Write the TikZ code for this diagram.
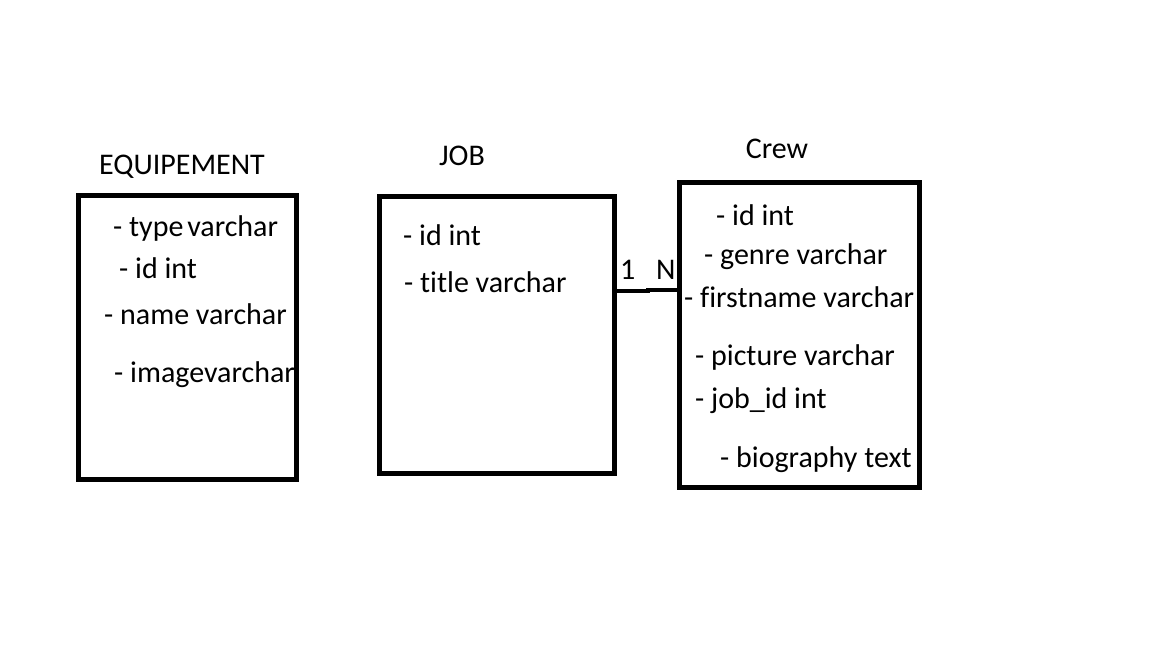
\documentclass[tikz,border=0pt]{standalone}
\usepackage{fontspec}
\setmainfont[Ligatures={NoCommon}]{Carlito}
\begin{document}
\begin{tikzpicture}[x=1pt,y=-1pt,
  tbl/.style={draw=black,line width=5pt},
  attr/.style={anchor=base west,inner sep=0pt,font=\fontsize{30}{34}\selectfont},
  ttl/.style={anchor=base,inner sep=0pt,font=\fontsize{30}{34}\selectfont},
  conn/.style={draw=black,line width=4pt}]
\useasboundingbox[fill=white] (0,0) rectangle (1152,648);
% titles
\node[ttl] (teq) at (182,174) {EQUIPEMENT};
\node[ttl] (tjob) at (462,165) {JOB};
\node[ttl] (tcrew) at (777,158) {Crew};
% EQUIPEMENT attributes
\node[attr] (e1) at (113,236) {- type\hspace{-3pt} varchar};
\node[attr] (e2) at (119,278) {- id int};
\node[attr] (e3) at (104,324) {- name varchar};
\node[attr] (e4) at (114,382) {- imagevarchar};
% JOB attributes
\node[attr] (j1) at (403,245) {- id int};
\node[attr] (j2) at (404,292) {- title varchar};
% Crew attributes
\node[attr] (c1) at (716,225) {- id int};
\node[attr] (c2) at (704,264) {- genre varchar};
\node[attr] (c3) at (684,307) {- firstname varchar};
\node[attr] (c4) at (695,365) {- picture varchar};
\node[attr] (c5) at (695,408) {- job\_id int};
\node[attr] (c6) at (720,467) {- biography text};
% boxes
\node[tbl,fill=none,inner sep=0pt,minimum width=218pt,minimum height=284pt] (eq) at (187,337) {};
\node[tbl,inner sep=0pt,minimum width=235pt,minimum height=277pt] (job) at (496.5,334.5) {};
\node[tbl,inner sep=0pt,minimum width=240pt,minimum height=305pt] (crew) at (799,334.5) {};
% connector
\coordinate (mid1) at (648,291);
\coordinate (mid2) at (648,289.5);
\draw[conn] (job.east |- mid1) -- (mid1) -- (mid2) -- (crew.west |- mid2);
\node[attr] (one) at (620,279) {1};
\node[attr] (many) at (656,279) {N};
\end{tikzpicture}
\end{document}
